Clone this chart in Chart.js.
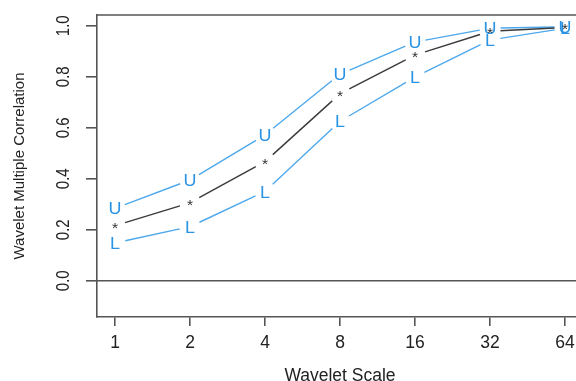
<!DOCTYPE html>
<html>
<head>
<meta charset="utf-8">
<script src="https://cdn.jsdelivr.net/npm/chart.js@4"></script>
<style>
  html, body { margin: 0; padding: 0; background: #fff; overflow: hidden; }
  #wrap { width: 576px; height: 381px; overflow: hidden; position: relative; }
  #box { width: 600px; height: 390px; position: absolute; left: 0; top: 0; }
</style>
</head>
<body>
<div id="wrap"><div id="box"><canvas id="c"></canvas></div></div>
<script>
// ---- data ----
const scaleLabels = ['1', '2', '4', '8', '16', '32', '64'];
const upperValues = [0.284, 0.395, 0.572, 0.810, 0.936, 0.990, 0.996];
const estimateValues = [0.216, 0.306, 0.467, 0.733, 0.885, 0.978, 0.993];
const lowerValues = [0.148, 0.212, 0.350, 0.625, 0.799, 0.944, 0.990];
const yTickValues = [0.0, 0.2, 0.4, 0.6, 0.8, 1.0];
const yTickLabels = ['0.0', '0.2', '0.4', '0.6', '0.8', '1.0'];
const xTitle = 'Wavelet Scale';
const yTitle = 'Wavelet Multiple Correlation';

const toPts = arr => arr.map((v, i) => ({ x: i, y: v }));

const BLUE_LINE = '#4ea8ec';
const BLUE_TEXT = '#2b93e4';
const DARK = '#3a3a3a';
const GAP = 10.5;
const FONT = '"Liberation Sans", Arial, sans-serif';

const seriesPlugin = {
  id: 'seriesPlugin',
  beforeDatasetsDraw(chart) {
    const { ctx, chartArea: a, scales } = chart;
    ctx.save();
    ctx.strokeStyle = '#555';
    ctx.lineWidth = 1.6;
    ctx.beginPath();
    ctx.moveTo(a.left, a.top);
    ctx.lineTo(a.right, a.top);
    ctx.lineTo(a.right, a.bottom);
    ctx.stroke();
    const y0 = scales.y.getPixelForValue(0);
    ctx.beginPath();
    ctx.moveTo(a.left, y0);
    ctx.lineTo(a.right, y0);
    ctx.stroke();
    ctx.restore();
  },
  afterDatasetsDraw(chart) {
    const { ctx } = chart;
    ctx.save();
    chart.data.datasets.forEach((ds, di) => {
      const meta = chart.getDatasetMeta(di);
      const pts = meta.data.map(p => ({ x: p.x, y: p.y }));
      ctx.strokeStyle = ds.lineColor;
      ctx.lineWidth = 1.4;
      for (let i = 0; i < pts.length - 1; i++) {
        const p = pts[i], q = pts[i + 1];
        const dx = q.x - p.x, dy = q.y - p.y;
        const len = Math.hypot(dx, dy);
        if (len <= 2 * GAP) continue;
        const ux = dx / len, uy = dy / len;
        ctx.beginPath();
        ctx.moveTo(p.x + ux * GAP, p.y + uy * GAP);
        ctx.lineTo(q.x - ux * GAP, q.y - uy * GAP);
        ctx.stroke();
      }
      ctx.fillStyle = ds.charColor;
      ctx.font = ds.charFont;
      ctx.textAlign = 'center';
      ctx.textBaseline = 'alphabetic';
      const m = ctx.measureText(ds.char);
      const off = (m.actualBoundingBoxAscent - m.actualBoundingBoxDescent) / 2;
      pts.forEach(p => {
        ctx.save();
        ctx.translate(p.x, p.y + off);
        ctx.scale(1.12, 1);
        ctx.fillText(ds.char, 0, 0);
        ctx.restore();
      });
    });
    ctx.restore();
  },
  afterDraw(chart) {
    const { ctx, scales } = chart;
    ctx.save();
    ctx.fillStyle = '#222';
    ctx.font = '15px ' + FONT;
    ctx.textAlign = 'center';
    ctx.textBaseline = 'middle';
    yTickValues.forEach((v, i) => {
      const y = scales.y.getPixelForValue(v);
      ctx.save();
      ctx.translate(64.5, y);
      ctx.scale(1.2, 1);
      ctx.rotate(-Math.PI / 2);
      ctx.fillText(yTickLabels[i], 0, 0);
      ctx.restore();
    });
    ctx.restore();
  }
};

new Chart(document.getElementById('c'), {
  type: 'scatter',
  data: {
    datasets: [
      { label: 'L', data: toPts(lowerValues), char: 'L', lineColor: BLUE_LINE, charColor: BLUE_TEXT,
        charFont: '16px ' + FONT, pointRadius: 0, showLine: false },
      { label: 'U', data: toPts(upperValues), char: 'U', lineColor: BLUE_LINE, charColor: BLUE_TEXT,
        charFont: '16px ' + FONT, pointRadius: 0, showLine: false },
      { label: 'est', data: toPts(estimateValues), char: '*', lineColor: DARK, charColor: '#333',
        charFont: '14px ' + FONT, pointRadius: 0, showLine: false }
    ]
  },
  options: {
    responsive: true,
    maintainAspectRatio: false,
    animation: false,
    layout: { padding: { left: 0, top: 15, right: 17, bottom: 0 } },
    plugins: { legend: { display: false }, tooltip: { enabled: false } },
    scales: {
      x: {
        type: 'linear',
        min: -0.24,
        max: 6.24,
        afterBuildTicks: s => { s.ticks = scaleLabels.map((_, i) => ({ value: i })); },
        afterFit: s => { s.height = 73; },
        ticks: {
          callback: v => scaleLabels[v],
          color: '#222',
          font: { family: FONT, size: 17.5 },
          padding: 7,
          maxRotation: 0,
          autoSkip: false
        },
        grid: { drawOnChartArea: false, drawTicks: true, tickLength: 9, tickColor: '#555', lineWidth: 1.6 },
        border: { display: true, color: '#555', width: 1.6 },
        title: {
          display: true, text: xTitle, color: '#222',
          font: { family: FONT, size: 17.5 },
          padding: { top: 0, bottom: 3 }
        }
      },
      y: {
        type: 'linear',
        min: -0.142,
        max: 1.042,
        afterBuildTicks: s => { s.ticks = yTickValues.map(v => ({ value: v })); },
        afterFit: s => { s.width = 97; },
        ticks: { display: false },
        grid: { drawOnChartArea: false, drawTicks: true, tickLength: 11, tickColor: '#555', lineWidth: 1.6 },
        border: { display: true, color: '#555', width: 1.6 },
        title: {
          display: true, text: yTitle, color: '#222',
          font: { family: FONT, size: 15 },
          padding: { top: 11, bottom: 0 }
        }
      }
    }
  },
  plugins: [seriesPlugin]
});
</script>
</body>
</html>
